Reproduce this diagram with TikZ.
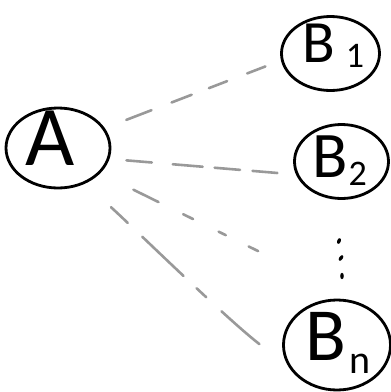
\documentclass[tikz,border=0pt]{standalone}
\usepackage{fontspec}
\setmainfont{Carlito}
\usetikzlibrary{shapes.geometric}
\begin{document}
\begin{tikzpicture}[x=1pt,y=-1pt,
  bubble/.style={draw, ellipse, line width=2.8pt, inner sep=0pt},
  link/.style={draw=black!40, line width=2.6pt, line cap=round},
  lbl/.style={inner sep=0pt, anchor=base west},
  dotmark/.style={fill=black}]
\useasboundingbox (0,0) rectangle (391,392);

% circles
\node[bubble, minimum width=104pt, minimum height=80pt] (A)  at (58,148)    {};
\node[bubble, minimum width=98pt,  minimum height=74pt] (B1) at (330.5,53.5) {};
\node[bubble, minimum width=94pt,  minimum height=74pt] (B2) at (341.5,161.5) {};
\node[bubble, minimum width=107pt, minimum height=90pt] (Bn) at (337,345)    {};

% labels
\node[inner sep=0pt, font=\fontsize{85}{85}\selectfont] (tA) at (50,138) {A};
\node[lbl, font=\fontsize{60}{60}\selectfont] (tB1) at (302,62)
  {B\kern 11pt\raisebox{-5pt}{\fontsize{36}{36}\selectfont 1}};
\node[lbl, font=\fontsize{65}{65}\selectfont] (tB2) at (312,177)
  {B\kern 1pt\raisebox{-8pt}{\fontsize{36}{36}\selectfont 2}};
\node[lbl, font=\fontsize{75}{75}\selectfont] (tBn) at (305,360)
  {B\kern 4pt\raisebox{-13pt}{\fontsize{40}{40}\selectfont n}};

% vertical dots
\fill[dotmark, rotate around={-20:(339,241)}] (339,241) ellipse (1.8pt and 3pt);
\fill[dotmark, rotate around={-35:(341,258)}] (341,258) ellipse (1.8pt and 3.2pt);
\fill[dotmark] (342,276) ellipse (1.8pt and 3.2pt);

% free end of the fading connector
\coordinate (c3) at (262,253);

% dashed connectors
\draw[link, shorten <=23pt, shorten >=13pt,
  dash pattern=on 27pt off 21.5pt on 21.5pt off 18.5pt on 19.5pt off 21.5pt on 19.5pt off 60pt]
  (A.23) -- (B1.188);
\draw[link, shorten <=17pt, shorten >=16pt,
  dash pattern=on 25.5pt off 21pt on 30pt off 12pt on 25.5pt off 12.5pt on 25pt off 60pt]
  (A.-12) -- (B2.196);
\draw[link, shorten <=37pt,
  dash pattern=on 28pt off 27.5pt on 11pt off 28.5pt on 8pt off 25.5pt on 10.5pt off 60pt]
  (A.-31) -- (c3);
\draw[link, shorten <=35pt, shorten >=27pt,
  dash pattern=on 23pt off 20pt on 57pt off 18pt on 13pt off 21pt on 50pt off 60pt]
  (A.-53) to[out=-42, in=145, looseness=0.6] (Bn.200);
\end{tikzpicture}
\end{document}
